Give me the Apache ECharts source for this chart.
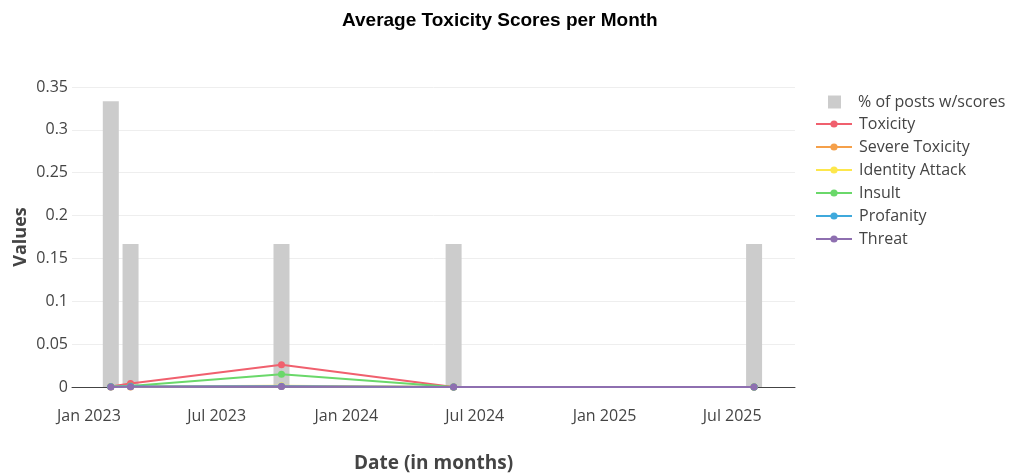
<!DOCTYPE html>
<html>
<head>
<meta charset="utf-8">
<script src="https://cdn.jsdelivr.net/npm/echarts@6/dist/echarts.min.js"></script>
<style>
html,body{margin:0;padding:0;background:#fff;}
#chart{width:1009px;height:474px;}
</style>
</head>
<body>
<div id="chart"></div>
<script>
// ---- data ----
const months = ['2023-02-01', '2023-03-01', '2023-10-01', '2024-06-01', '2025-08-01'];
const pctPosts = [0.3333, 0.1667, 0.1667, 0.1667, 0.1667];
const toxicity = [0.0005, 0.004, 0.026, 0, 0];
const severeToxicity = [0, 0.0001, 0.0005, 0, 0];
const identityAttack = [0.0002, 0.0005, 0.0015, 0, 0];
const insult = [0.0003, 0.0012, 0.0148, 0, 0];
const profanity = [0.0002, 0.0005, 0.0008, 0, 0];
const threat = [0.0001, 0.0003, 0.0005, 0, 0];

const xTickDates = ['2023-01-01', '2023-07-01', '2024-01-01', '2024-07-01', '2025-01-01', '2025-07-01'];
const xTickLabels = ['Jan 2023', 'Jul 2023', 'Jan 2024', 'Jul 2024', 'Jan 2025', 'Jul 2025'];
const yTickLabels = ['0', '0.05', '0.1', '0.15', '0.2', '0.25', '0.3', '0.35'];

const lineNames = ['Toxicity', 'Severe Toxicity', 'Identity Attack', 'Insult', 'Profanity', 'Threat'];
const lineData = [toxicity, severeToxicity, identityAttack, insult, profanity, threat];
const lineColors = ['#f0606e', '#f5a04a', '#fde74c', '#6ad86a', '#3fa9dc', '#8e6fb0'];

const ts = d => new Date(d + 'T00:00:00Z').getTime();
const xTickTs = xTickDates.map(ts);

const font = '"Open Sans", sans-serif';

const series = [{
  name: '% of posts w/scores',
  type: 'bar',
  data: months.map((m, i) => [ts(m), pctPosts[i]]),
  barWidth: 16,
  itemStyle: { color: '#cccccc' },
  z: 1
}];
lineNames.forEach((n, k) => {
  series.push({
    name: n,
    type: 'line',
    data: months.map((m, i) => [ts(m), lineData[k][i]]),
    symbol: 'circle',
    symbolSize: 7,
    showSymbol: true,
    clip: false,
    lineStyle: { width: 2, color: lineColors[k] },
    itemStyle: { color: lineColors[k] },
    z: 3 + k
  });
});

const chart = echarts.init(document.getElementById('chart'), null, { renderer: 'canvas' });
chart.setOption({
  animation: false,
  backgroundColor: '#fff',
  title: {
    text: 'Average Toxicity Scores per Month',
    left: 337,
    top: 6,
    textStyle: { fontFamily: '"Liberation Sans", Arial, sans-serif', fontWeight: 'bold', fontSize: 19, color: '#000' }
  },
  legend: [{
    data: ['% of posts w/scores'],
    orient: 'vertical',
    left: 823,
    top: 89,
    itemWidth: 13,
    itemHeight: 13,
    icon: 'rect',
    textStyle: { fontFamily: font, fontSize: 16, color: '#444', padding: [0, 0, 0, 12] }
  }, {
    data: lineNames,
    orient: 'vertical',
    left: 810,
    top: 111,
    itemWidth: 36,
    itemHeight: 9,
    itemGap: 7,
    textStyle: { fontFamily: font, fontSize: 16, color: '#444', lineHeight: 16, padding: [0, 0, 0, 2] }
  }],
  grid: { left: 72, right: 1009 - 795, top: 87, bottom: 87, containLabel: false, outerBoundsMode: 'none' },
  xAxis: {
    type: 'value',
    min: ts('2022-12-08'),
    max: ts('2025-09-28'),
    name: 'Date (in months)',
    nameLocation: 'middle',
    nameGap: 67,
    nameMoveOverlap: false,
    nameTextStyle: { fontFamily: font, fontWeight: 'bold', fontSize: 19, color: '#444' },
    axisLine: { show: true, onZero: true, lineStyle: { color: '#444', width: 1 } },
    axisTick: { show: false },
    splitLine: { show: false },
    axisLabel: {
      customValues: xTickTs,
      margin: 21,
      fontFamily: font,
      fontSize: 16,
      color: '#444',
      formatter: v => {
        const i = xTickTs.indexOf(v);
        return i >= 0 ? xTickLabels[i] : '';
      }
    }
  },
  yAxis: {
    type: 'value',
    min: 0,
    max: 0.35,
    interval: 0.05,
    name: 'Values',
    nameLocation: 'middle',
    nameGap: 42,
    nameMoveOverlap: false,
    nameTextStyle: { fontFamily: font, fontWeight: 'bold', fontSize: 18, color: '#444' },
    axisLine: { show: false },
    axisTick: { show: false },
    splitLine: { show: true, lineStyle: { color: '#eeeeee', width: 1 } },
    axisLabel: {
      margin: 4,
      fontFamily: font,
      fontSize: 16,
      color: '#444',
      formatter: v => yTickLabels[Math.round(v / 0.05)]
    }
  },
  series: series
});
</script>
</body>
</html>
